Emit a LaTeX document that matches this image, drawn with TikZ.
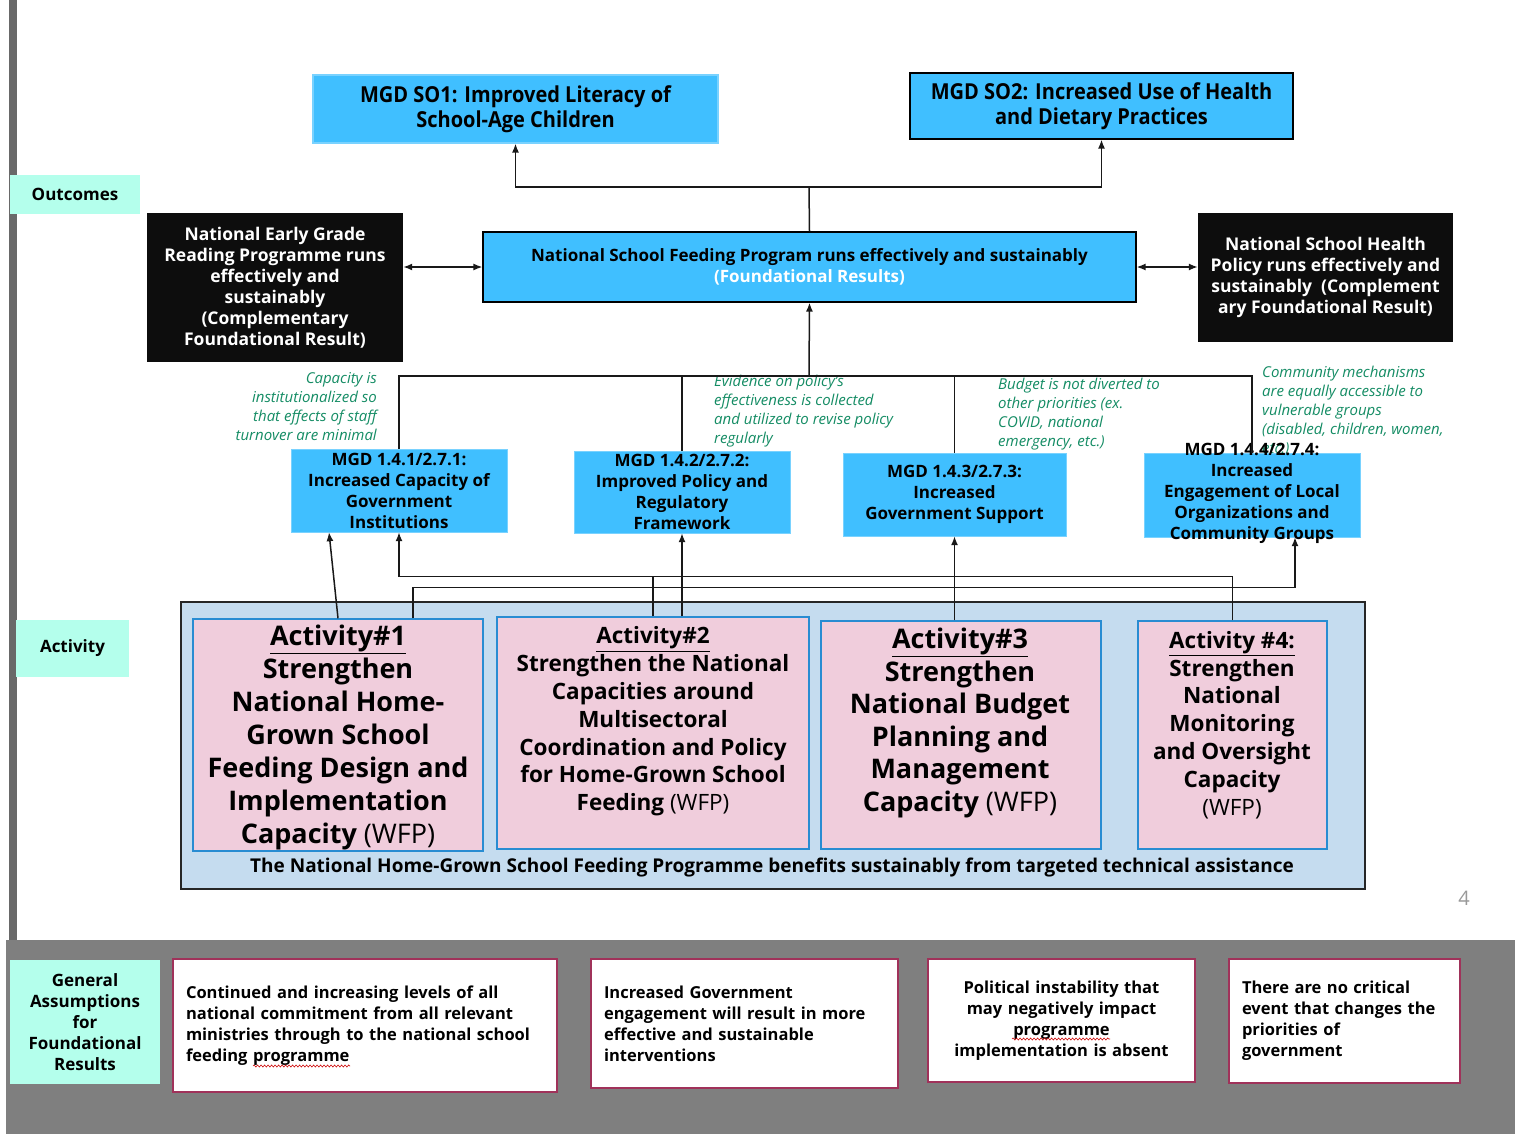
\documentclass[tikz,border=0pt]{standalone}
\usepackage{fontspec}
\setmainfont{Open Sans}
\newfontfamily\ocond[FakeStretch=0.91]{Open Sans}
\usepackage{tikz}
\usetikzlibrary{calc,positioning,arrows.meta,decorations.pathmorphing}

\definecolor{skyblue}{RGB}{64,191,255}
\definecolor{mint}{RGB}{180,255,236}
\definecolor{pinkfill}{RGB}{240,205,220}
\definecolor{actblue}{RGB}{40,140,210}
\definecolor{areablue}{RGB}{197,220,239}
\definecolor{notegreen}{RGB}{20,140,100}
\definecolor{assumred}{RGB}{160,50,90}
\definecolor{bandgray}{RGB}{127,127,127}
\definecolor{bargray}{RGB}{105,105,105}
\definecolor{nearblack}{RGB}{13,13,13}

\tikzset{
lbl/.style={fill=mint, inner sep=0pt, align=center, font=\bfseries\fontsize{17}{21}\selectfont}, % side labels
sobox/.style={fill=skyblue, line width=1.2pt, inner sep=0pt, align=center, font=\ocond\bfseries\fontsize{22}{24.5}\selectfont},
fspbox/.style={fill=skyblue, draw=black, line width=1.2pt, inner sep=0pt, align=center, font=\bfseries\fontsize{17}{21}\selectfont},
darkbox/.style={fill=nearblack, text=white, inner sep=0pt, align=center, font=\bfseries\fontsize{17.5}{21}\selectfont},
mgdbox/.style={fill=skyblue, draw=skyblue!70!white, inner sep=0pt, align=center, font=\bfseries\fontsize{17}{21}\selectfont},
note/.style={text=notegreen, inner sep=0pt, font=\itshape\fontsize{15}{19}\selectfont},
actbox/.style={fill=pinkfill, draw=actblue, line width=1.5pt, inner sep=0pt},
bigact/.style={align=center, inner sep=0pt, font=\bfseries\fontsize{27}{33}\selectfont},
smallact/.style={align=center, inner sep=0pt, font=\bfseries\fontsize{22.5}{27.8}\selectfont},
assum/.style={fill=white, draw=assumred, line width=1.5pt, inner xsep=13pt, inner ysep=0pt, font=\bfseries\fontsize{16.5}{21}\selectfont},
link/.style={draw=black!90, line width=1.5pt},
tip/.style={-{Latex[length=9pt,width=7pt]}},
spell/.style={red!80!black, line width=0.6pt, decorate, decoration={snake, amplitude=1pt, segment length=3.5pt}},
}

\begin{document}
\begin{tikzpicture}[x=1pt,y=1pt,yscale=-1,xscale=1]
\useasboundingbox (0,0) rectangle (1515,1134);

% page background
\fill[white] (0,0) rectangle (1515,1134);
\fill[bandgray] (6,940) rectangle (1515,1134);
\fill[bargray] (9,0) rectangle (17,940);

% Side labels
\node[lbl, minimum width=130, minimum height=39] (lblout) at (75,194.5) {Outcomes};
\node[lbl, minimum width=113, minimum height=57] (lblact) at (72.5,648.5) {Activity};
\node[lbl, minimum width=150, minimum height=124] (lblass) at (85,1022) {General\\Assumptions\\for\\Foundational\\Results};

% Outcome boxes
\node[sobox, draw=skyblue!70!white, minimum width=405, minimum height=68] (so1) at (515.5,109) {MGD SO1: Improved Literacy of\\School-Age Children};
\node[sobox, draw=black, minimum width=383, minimum height=66] (so2) at (1101.5,106) {MGD SO2: Increased Use of Health\\and Dietary Practices};

% Foundational results
\node[fspbox, minimum width=653, minimum height=70] (fsp) at (809.5,267) {National School Feeding Program runs effectively and sustainably\\\textcolor{white}{(Foundational Results)}};
\node[darkbox, minimum width=256, minimum height=149] (egr) at (275,287.5) {National Early Grade\\Reading Programme runs\\effectively and\\sustainably\\(Complementary\\Foundational Result)};
\node[darkbox, minimum width=255, minimum height=129] (shp) at (1325.5,277.5) {National School Health\\Policy runs effectively and\\sustainably\ \ (Complement\\ary Foundational Result)};

% Assumption notes
\node[note, anchor=east, align=right] (note1) at (377,407) {Capacity is\\institutionalized so\\that effects of staff\\turnover are minimal};
\node[note, anchor=west, align=left] (note2) at (714,411) {Evidence on policy's\\effectiveness is collected\\and utilized to revise policy\\regularly};
\node[note, anchor=west, align=left] (note3) at (998,414) {Budget is not diverted to\\other priorities (ex.\\COVID, national\\emergency, etc.)};
\node[note, anchor=west, align=left] (note4) at (1262,411) {Community mechanisms\\are equally accessible to\\vulnerable groups\\(disabled, children, women,\\etc.)};

% MGD results
\node[mgdbox, minimum width=216, minimum height=83] (mgd1) at (399,490.5) {MGD 1.4.1/2.7.1:\\Increased Capacity of\\Government\\Institutions};
\node[mgdbox, minimum width=216, minimum height=82] (mgd2) at (682,492) {MGD 1.4.2/2.7.2:\\Improved Policy and\\Regulatory\\Framework};
\node[mgdbox, minimum width=223, minimum height=83] (mgd3) at (954.5,494.5) {MGD 1.4.3/2.7.3:\\Increased\\Government Support};
\node[mgdbox, minimum width=216, minimum height=84] (mgd4) at (1252,495) {};
\node[inner sep=0pt, align=center, font=\bfseries\fontsize{17}{21}\selectfont] (mgd4txt) at (1252,493) {MGD 1.4.4/2.7.4:\\Increased\\Engagement of Local\\Organizations and\\Community Groups};

% Activities
\node[fill=areablue, draw=black!85, line width=1.5pt, minimum width=1184, minimum height=287] (actarea) at (773,745.5) {};
\node[inner sep=0pt, font=\bfseries\fontsize{19}{21}\selectfont] (actareatxt) at (772,868) {The National Home-Grown School Feeding Programme benefits sustainably from targeted technical assistance};

\node[actbox, minimum width=290, minimum height=232] (act1) at (338,735) {};
\node[actbox, minimum width=312, minimum height=232] (act2) at (653,733) {};
\node[actbox, minimum width=280, minimum height=228] (act3) at (961,735) {};
\node[actbox, minimum width=189, minimum height=228] (act4) at (1232.5,735) {};

\node[bigact] (act1txt) at (338,737.5) {\underline{Activity\#1}\\Strengthen\\National Home-\\Grown School\\Feeding Design and\\Implementation\\Capacity {\mdseries (WFP)}};
\node[smallact, font=\bfseries\fontsize{22.5}{27.8}\selectfont] (act2txt) at (653,721.5) {\underline{Activity\#2}\\Strengthen the National\\Capacities around\\Multisectoral\\Coordination and Policy\\for Home-Grown School\\Feeding {\mdseries (WFP)}};
\node[bigact, font=\bfseries\fontsize{27}{32.5}\selectfont] (act3txt) at (960,723) {\underline{Activity\#3}\\Strengthen\\National Budget\\Planning and\\Management\\Capacity {\mdseries (WFP)}};
\node[smallact] (act4txt) at (1232,725) {\underline{Activity \#4:}\\Strengthen\\National\\Monitoring\\and Oversight\\Capacity\\{\mdseries (WFP)}};

% General assumptions
\node[assum, text width=358, align=left, minimum height=133] (as1) at (365,1025.5) {Continued and increasing levels of all\\national commitment from all relevant\\ministries through to the national school\\feeding programme};
\node[assum, text width=281, align=left, minimum height=129] (as2) at (744.5,1023.5) {Increased Government\\engagement will result in more\\effective and sustainable\\interventions};
\node[assum, text width=241, align=center, minimum height=123] (as3) at (1061.5,1020.5) {Political instability that\\may negatively impact\\programme\\implementation is absent};
\node[assum, text width=205, align=left, minimum height=124] (as4) at (1344.5,1021) {There are no critical\\event that changes the\\priorities of\\government};
\draw[spell] (253,1066) -- (350,1066);
\draw[spell] (1012,1039) -- (1110,1039);

% page number
\node[text=black!40, font=\fontsize{20}{24}\selectfont] (pnum) at (1464,898) {4};

% Connectors: foundational result to outcomes
\coordinate (topj) at (809,187);
\draw[link] (fsp.north) -- (topj);
\draw[link,tip] (topj) -| (so1.south);
\draw[link,tip] (topj) -| (so2.south);
\draw[link,{Latex[length=9pt,width=7pt]}-{Latex[length=9pt,width=7pt]}] (egr.east |- fsp.west) -- (fsp.west);
\draw[link,{Latex[length=9pt,width=7pt]}-{Latex[length=9pt,width=7pt]}] (fsp.east) -- (shp.west |- fsp.east);

% Connectors: MGD results to foundational result
\coordinate (botj) at (809,376);
\draw[link,tip] (botj) -- (fsp.south);
\draw[link] (botj) -| (mgd1.north);
\draw[link] (botj) -| (mgd2.north);
\draw[link] (botj) -| (mgd3.north);
\draw[link] (botj) -| (mgd4.north);

% Connectors: activities to MGD results
\coordinate (jn2) at ($(act2.north)+(0,-40)$);
\draw[link,tip] (act1.north) -- ($(mgd1.south)+(-70,0)$);
\draw[link,tip] ($(act1.north)+(75,0)$) -- ++(0,-31) -| ($(mgd4.south)+(43,0)$);
\draw[link,tip] (act2.north) -- (jn2) -| (mgd1.south);
\draw[link] (act4.north) |- (jn2);
\draw[link,tip] (act2.north -| mgd2.south) -- (mgd2.south);
\draw[link,tip] (act3.north -| mgd3.south) -- (mgd3.south);

\end{tikzpicture}
\end{document}
